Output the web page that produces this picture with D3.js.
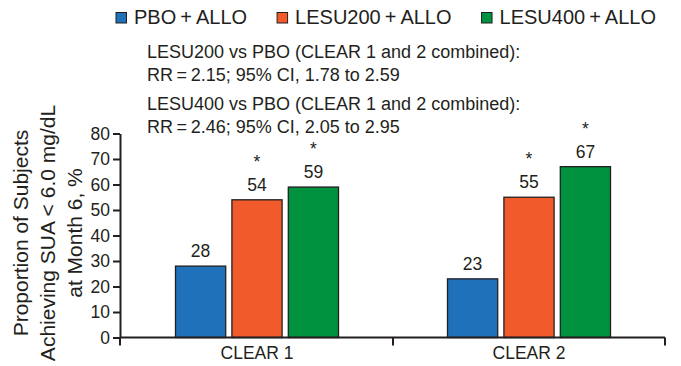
<!DOCTYPE html>
<html>
<head>
<meta charset="utf-8">
<script src="https://cdn.jsdelivr.net/npm/d3@7"></script>
<style>
  body { margin: 0; background: #fff; }
  svg { display: block; font-family: "Liberation Sans", Arial, Helvetica, sans-serif; }
</style>
</head>
<body>
<div class="bar-chart-container"></div>
<script>

//data

const studies = ['CLEAR 1', 'CLEAR 2'];
const groups = ['PBO\u2009+\u2009ALLO', 'LESU200\u2009+\u2009ALLO', 'LESU400\u2009+\u2009ALLO'];
const pboValues = [28, 23];
const lesu200Values = [54, 55];
const lesu400Values = [59, 67];
const significant = [false, true, true];
const yTicks = [0, 10, 20, 30, 40, 50, 60, 70, 80];
const colors = ['#1f71b9', '#f15a2b', '#00923f'];
const yTitle = ['Proportion of Subjects', 'Achieving SUA < 6.0 mg/dL', 'at Month 6, %'];
const notes = [
  ['LESU200 vs PBO (CLEAR 1 and 2 combined):', 'RR\u2009=\u20092.15; 95% CI, 1.78 to 2.59'],
  ['LESU400 vs PBO (CLEAR 1 and 2 combined):', 'RR\u2009=\u20092.46; 95% CI, 2.05 to 2.95']
];

//flatten into one row per bar
const seriesValues = [pboValues, lesu200Values, lesu400Values];
const barData = [];
studies.forEach((s, i) => {
  groups.forEach((g, j) => {
    barData.push({study: s, group: g, value: seriesValues[j][i], star: significant[j], color: colors[j]});
  });
});

//base

const width = 681;
const height = 366;

const svg = d3.select('.bar-chart-container')
  .append('svg')
  .attr('width', width)
  .attr('height', height);

//scales

const x0 = d3.scaleBand()
  .domain(studies)
  .range([121, 665]);

const x1 = d3.scaleBand()
  .domain(groups)
  .range([-81.5, 81.5])
  .paddingInner(0.11);

const y = d3.scaleLinear()
  .domain([0, 80])
  .range([337.5, 133.5]);

//bars

svg.selectAll('.bar')
  .data(barData)
  .enter()
  .append('rect')
  .attr('class', 'bar')
  .attr('x', d => x0(d.study) + x0.bandwidth() / 2 + x1(d.group))
  .attr('y', d => y(d.value))
  .attr('width', x1.bandwidth())
  .attr('height', d => y(0) - y(d.value))
  .style('fill', d => d.color)
  .style('stroke', '#231f20')
  .style('stroke-width', 1.3);

//value labels + stars

const barCenter = d => x0(d.study) + x0.bandwidth() / 2 + x1(d.group) + x1.bandwidth() / 2;

svg.selectAll('.value')
  .data(barData)
  .enter()
  .append('text')
  .attr('x', barCenter)
  .attr('y', d => y(d.value) - 9)
  .attr('text-anchor', 'middle')
  .style('font-size', '17.5px')
  .style('fill', '#231f20')
  .text(d => d.value);

svg.selectAll('.star')
  .data(barData.filter(d => d.star))
  .enter()
  .append('text')
  .attr('x', barCenter)
  .attr('y', d => y(d.value) - 32)
  .attr('text-anchor', 'middle')
  .style('font-size', '17.5px')
  .style('fill', '#231f20')
  .text('*');

//y axis

const yAxis = svg.append('g')
  .attr('transform', 'translate(120,0)')
  .call(d3.axisLeft(y).tickValues(yTicks).tickSize(7).tickSizeOuter(0).tickPadding(3));

yAxis.select('.domain').attr('stroke', '#231f20').attr('stroke-width', 2);
yAxis.selectAll('.tick line').attr('stroke', '#231f20').attr('stroke-width', 2);
yAxis.selectAll('.tick text')
  .style('font-size', '17.5px')
  .style('font-family', '"Liberation Sans", Arial, sans-serif')
  .attr('fill', '#231f20');

//x axis (labels from the band scale, ticks at band edges)

const xAxis = svg.append('g')
  .attr('transform', `translate(0,${y(0)})`)
  .call(d3.axisBottom(x0).tickSize(0).tickPadding(9));

xAxis.select('.domain').remove();
xAxis.selectAll('.tick text')
  .style('font-size', '17.5px')
  .style('font-family', '"Liberation Sans", Arial, sans-serif')
  .attr('fill', '#231f20');

svg.append('line')
  .attr('x1', 120)
  .attr('x2', x0.range()[1])
  .attr('y1', y(0))
  .attr('y2', y(0))
  .attr('stroke', '#231f20')
  .attr('stroke-width', 2);

const edges = [120].concat(studies.slice(1).map(s => x0(s)), [x0.range()[1]]);
svg.selectAll('.edge')
  .data(edges)
  .enter()
  .append('line')
  .attr('x1', d => d)
  .attr('x2', d => d)
  .attr('y1', y(0))
  .attr('y2', y(0) + 8)
  .attr('stroke', '#231f20')
  .attr('stroke-width', 2);

//y title

svg.selectAll('.ytitle')
  .data(yTitle)
  .enter()
  .append('text')
  .attr('transform', (d, i) => `translate(${28 + i * 27},233) rotate(-90)`)
  .attr('text-anchor', 'middle')
  .style('font-size', '21px')
  .style('fill', '#231f20')
  .text(d => d);

//legend

let lx = 116;
groups.forEach((g, i) => {
  svg.append('rect')
    .attr('x', lx)
    .attr('y', 12.5)
    .attr('width', 10.5)
    .attr('height', 10.5)
    .style('fill', colors[i])
    .style('stroke', '#231f20')
    .style('stroke-width', 1);
  const t = svg.append('text')
    .attr('x', lx + 18)
    .attr('y', 24)
    .style('font-size', '20px')
    .style('fill', '#231f20')
    .text(g);
  lx += 18 + t.node().getComputedTextLength() + 30;
});

//notes

const noteY = [[58, 81], [110, 133]];
notes.forEach((lines, i) => {
  lines.forEach((line, j) => {
    svg.append('text')
      .attr('x', 147)
      .attr('y', noteY[i][j])
      .style('font-size', '18px')
      .style('fill', '#231f20')
      .text(line);
  });
});

</script>
</body>
</html>
